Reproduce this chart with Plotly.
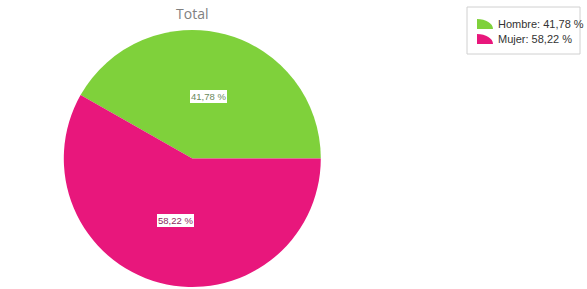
import math
import plotly.graph_objects as go

categories = ["Hombre", "Mujer"]
values = [41.78, 58.22]
colors = ["#7fd13b", "#e8177c"]
label_text_colors = ["#6b8a5c", "#8c2a5e"]
title_text = "Total"

W, H = 587, 289
ML, MR, MT, MB = 0, 0, 30, 2
PW, PH = W - ML - MR, H - MT - MB
CX = 192.3
R = PH / 2.0
CY = MT + R


def fmt(v):
    return f"{v:.2f}".replace(".", ",") + " %"


def px_to_paper(x, y):
    return (x - ML) / PW, (H - MB - y) / PH


dom_x = [(CX - R) / W, (CX + R) / W]
total = sum(values)
# first slice starts at 3 o'clock and runs counterclockwise
rotation = 90 - 360.0 * values[0] / total

fig = go.Figure()
fig.add_trace(go.Pie(
    labels=categories,
    values=values,
    marker=dict(colors=colors, line=dict(width=0)),
    sort=False,
    direction="counterclockwise",
    rotation=rotation,
    textinfo="none",
    hoverinfo="label+percent",
    showlegend=False,
    domain=dict(x=dom_x, y=[0, 1]),
))

annotations = []
shapes = []

# slice labels at half radius along each slice's mid-angle
start = 0.0
for v, c, tc in zip(values, colors, label_text_colors):
    frac = v / total
    mid = (start + frac / 2) * 2 * math.pi
    start += frac
    lx = CX + 0.5 * R * math.cos(mid)
    ly = CY - 0.5 * R * math.sin(mid)
    px, py = px_to_paper(lx, ly)
    annotations.append(dict(
        x=px, y=py, xref="paper", yref="paper", text=fmt(v), showarrow=False,
        font=dict(family="Liberation Sans, Arial, sans-serif", size=9.5, color=tc),
        bgcolor="white", bordercolor=c, borderwidth=1, borderpad=1,
        xanchor="center", yanchor="middle",
    ))

# custom legend with wedge icons
bx0, by0 = px_to_paper(467, 7)
bx1, by1 = px_to_paper(580, 54)
shapes.append(dict(type="rect", xref="paper", yref="paper", x0=bx0, y0=by0, x1=bx1, y1=by1,
                   line=dict(color="#d0d0d0", width=1), fillcolor="white", layer="below"))
row_y = [24, 39]
for name, v, c, ry in zip(categories, values, colors, row_y):
    ix0, iy_top, iw, ih = 477, ry - 5, 16, 10
    pts = [
        (ix0, iy_top + ih),
        (ix0, iy_top),
        (ix0 + 0.552 * iw, iy_top),
        (ix0 + iw, iy_top + ih - 0.552 * ih),
        (ix0 + iw, iy_top + ih),
    ]
    p = [px_to_paper(*q) for q in pts]
    path = (f"M {p[0][0]},{p[0][1]} L {p[1][0]},{p[1][1]} "
            f"C {p[2][0]},{p[2][1]} {p[3][0]},{p[3][1]} {p[4][0]},{p[4][1]} Z")
    shapes.append(dict(type="path", xref="paper", yref="paper", path=path,
                       fillcolor=c, line=dict(width=0)))
    tx, ty = px_to_paper(496, ry)
    annotations.append(dict(
        x=tx, y=ty, xref="paper", yref="paper", text=f"{name}: {fmt(v)}", showarrow=False,
        font=dict(family="Liberation Sans, Arial, sans-serif", size=11, color="#333333"),
        xanchor="left", yanchor="middle",
    ))

fig.update_layout(
    width=W, height=H,
    margin=dict(l=ML, r=MR, t=MT, b=MB),
    paper_bgcolor="white", plot_bgcolor="white",
    title=dict(text=title_text, x=CX / W, xref="container", xanchor="center",
               y=1 - 14 / H, yref="container", yanchor="middle",
               font=dict(family="Open Sans, Liberation Sans, sans-serif", size=14, color="#808080")),
    annotations=annotations,
    shapes=shapes,
    showlegend=False,
)

fig.write_html("out.html")
